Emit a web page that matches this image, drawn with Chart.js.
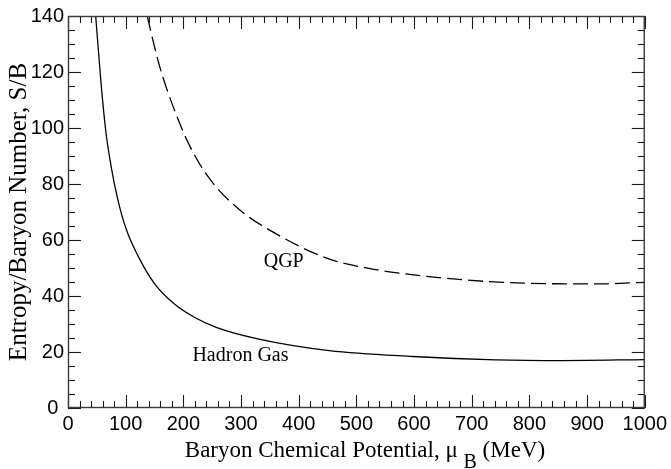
<!DOCTYPE html>
<html>
<head>
<meta charset="utf-8">
<title>Entropy per baryon vs baryon chemical potential</title>
<script src="https://cdn.jsdelivr.net/npm/chart.js@4/dist/chart.umd.min.js"></script>
<style>
  html, body { margin: 0; padding: 0; background: #ffffff; }
  #wrap { width: 671px; height: 469px; }
</style>
</head>
<body>
<div id="wrap"><canvas id="chart" width="671" height="469"></canvas></div>
<script>
// Hadron gas: entropy per baryon S/B against mu_B (MeV)
const hadronMu = [48, 57.2, 65.8, 74.5, 86, 100.5, 120.7, 149.6, 184, 219, 257, 329, 453, 598, 742, 857, 1000];
const hadronSB = [140, 116.2, 98.4, 86.6, 74.8, 64.1, 54.6, 44.5, 37.2, 32.4, 28.8, 24.7, 20.5, 18.4, 17.2, 16.95, 17.3];

// Quark-gluon plasma: entropy per baryon S/B against mu_B (MeV)
const qgpMu = [137.5, 141.5, 158.8, 181.8, 210.8, 245.4, 297.4, 355, 447.5, 528, 580, 690, 765, 834, 921, 1000];
const qgpSB = [140, 136.3, 122.1, 107.9, 93.7, 81.9, 70.8, 62.9, 53.6, 49.6, 48.0, 45.7, 44.8, 44.4, 44.3, 44.9];

// Labelled axis ticks
const xTickValues = [0, 100, 200, 300, 400, 500, 600, 700, 800, 900, 1000];
const yTickValues = [0, 20, 40, 60, 80, 100, 120, 140];

// Text
const xTitleMain = 'Baryon Chemical Potential, \u03BC';
const xTitleSub = 'B';
const xTitleTail = ' (MeV)';
const yTitle = 'Entropy/Baryon Number, S/B';
const qgpLabel = 'QGP';
const hadronLabel = 'Hadron Gas';

// Styling constants
const SERIF = '"Liberation Serif", "Times New Roman", serif';
const SANS = '"Liberation Sans", Arial, sans-serif';
const X_MINOR = 20, Y_MINOR = 5;
const MAJOR_LEN = 13, MINOR_LEN = 7;

const toPoints = (xs, ys) => xs.map((v, i) => ({ x: v, y: ys[i] }));

// Frame, inward ticks on all sides, in-plot labels and axis titles
const decor = {
  id: 'decor',
  afterDraw(chart) {
    const { ctx, chartArea: a, scales } = chart;
    const x = scales.x, y = scales.y;
    ctx.save();

    const seg = (x1, y1, x2, y2) => {
      ctx.beginPath(); ctx.moveTo(x1, y1); ctx.lineTo(x2, y2); ctx.stroke();
    };

    ctx.strokeStyle = '#1a1a1a';
    ctx.lineWidth = 1.1;
    for (let v = x.min; v <= x.max + 1e-9; v += X_MINOR) {
      const px = Math.round(x.getPixelForValue(v)) + 0.5;
      const len = xTickValues.includes(Math.round(v)) ? MAJOR_LEN : MINOR_LEN;
      seg(px, a.bottom, px, a.bottom - len);
      seg(px, a.top, px, a.top + len);
    }
    for (let v = y.min; v <= y.max + 1e-9; v += Y_MINOR) {
      const py = Math.round(y.getPixelForValue(v)) + 0.5;
      const len = yTickValues.includes(Math.round(v)) ? MAJOR_LEN : MINOR_LEN;
      seg(a.left, py, a.left + len, py);
      seg(a.right, py, a.right - len, py);
    }

    ctx.strokeStyle = '#3a3a3a';
    ctx.lineWidth = 1.4;
    ctx.strokeRect(a.left + 0.5, a.top + 0.5, a.width - 1, a.height - 1);

    // In-plot region labels, anchored in data coordinates
    ctx.fillStyle = '#000';
    ctx.font = '20px ' + SERIF;
    ctx.textAlign = 'center';
    ctx.textBaseline = 'middle';
    ctx.fillText(qgpLabel, x.getPixelForValue(374), y.getPixelForValue(52.1));
    ctx.fillText(hadronLabel, x.getPixelForValue(299), y.getPixelForValue(18.5));

    // X axis title with subscript B
    const mainFont = '23px ' + SERIF;
    const subFont = '20px ' + SERIF;
    ctx.textAlign = 'left';
    ctx.textBaseline = 'alphabetic';
    ctx.font = mainFont;
    const wMain = ctx.measureText(xTitleMain + ' ').width;
    const wTail = ctx.measureText(xTitleTail).width;
    ctx.font = subFont;
    const wSub = ctx.measureText(xTitleSub).width;
    const total = wMain + wSub + wTail;
    let tx = 365 - total / 2;
    const base = 457;
    ctx.font = mainFont;
    ctx.fillText(xTitleMain + ' ', tx, base);
    tx += wMain;
    ctx.font = subFont;
    ctx.fillText(xTitleSub, tx, base + 11);
    tx += wSub;
    ctx.font = mainFont;
    ctx.fillText(xTitleTail, tx, base);

    // Y axis title, rotated
    ctx.save();
    ctx.translate(26, (a.top + a.bottom) / 2);
    ctx.rotate(-Math.PI / 2);
    ctx.font = '25px ' + SERIF;
    ctx.textAlign = 'center';
    ctx.textBaseline = 'alphabetic';
    ctx.fillText(yTitle, 0, 0);
    ctx.restore();

    ctx.restore();
  }
};

new Chart(document.getElementById('chart'), {
  type: 'line',
  data: {
    datasets: [
      {
        label: hadronLabel,
        data: toPoints(hadronMu, hadronSB),
        borderColor: '#000',
        borderWidth: 1.3,
        pointRadius: 0,
        fill: false,
        cubicInterpolationMode: 'monotone'
      },
      {
        label: qgpLabel,
        data: toPoints(qgpMu, qgpSB),
        borderColor: '#000',
        borderWidth: 1.3,
        borderDash: [15, 6],
        pointRadius: 0,
        fill: false,
        cubicInterpolationMode: 'monotone'
      }
    ]
  },
  options: {
    responsive: false,
    animation: false,
    devicePixelRatio: 1,
    layout: { padding: { top: 14, right: 25, left: 0, bottom: 0 } },
    plugins: { legend: { display: false }, tooltip: { enabled: false } },
    scales: {
      x: {
        type: 'linear',
        min: 0,
        max: 1000,
        afterBuildTicks: s => { s.ticks = xTickValues.map(v => ({ value: v })); },
        afterFit: s => { s.height = 61; },
        grid: { display: false, drawTicks: false },
        border: { display: false },
        ticks: {
          padding: 4,
          color: '#000',
          maxRotation: 0,
          autoSkip: false,
          font: { family: SANS, size: 20 },
          callback: v => String(v)
        }
      },
      y: {
        type: 'linear',
        min: 0,
        max: 140,
        afterBuildTicks: s => { s.ticks = yTickValues.map(v => ({ value: v })); },
        afterFit: s => { s.width = 68; },
        grid: { display: false, drawTicks: false },
        border: { display: false },
        ticks: {
          padding: 4,
          color: '#000',
          autoSkip: false,
          font: { family: SANS, size: 20 },
          callback: v => (v === 0 ? '0 ' : String(v))
        }
      }
    }
  },
  plugins: [decor]
});
</script>
</body>
</html>
